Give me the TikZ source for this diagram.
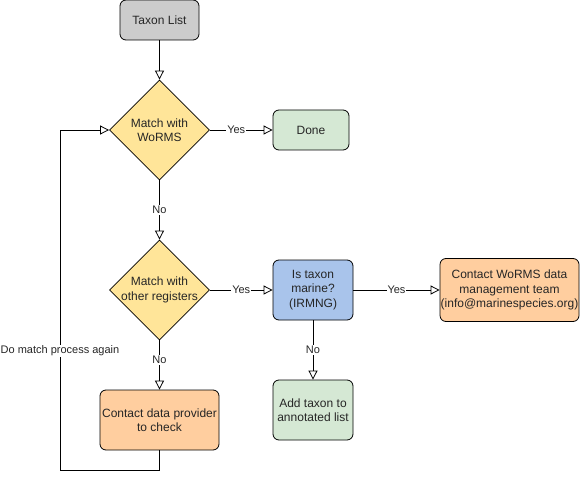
\documentclass[tikz,border=0pt]{standalone}
\usepackage{fontspec}
\setmainfont{Liberation Sans}
\usetikzlibrary{shapes.geometric,arrows.meta}
\definecolor{startgray}{HTML}{CCCCCC}
\definecolor{askyellow}{HTML}{FFE599}
\definecolor{donegreen}{HTML}{D5E8D4}
\definecolor{checkblue}{HTML}{A9C4EB}
\definecolor{mailorange}{HTML}{FFCE9F}
\definecolor{inkgray}{HTML}{262626}
\begin{document}
\begin{tikzpicture}[x=1pt, y=-1pt,
	every node/.style={font=\fontsize{12}{14.5}\selectfont, text=inkgray},
	box/.style={draw, rounded corners=6pt, align=center, line width=0.8pt, inner sep=0pt},
	decision/.style={draw, diamond, fill=askyellow, minimum width=100pt, minimum height=100pt, inner sep=0pt, line width=0.8pt},
	asktext/.style={align=center},
	flow/.style={-{Triangle[open, length=9pt, width=9pt]}, line width=0.8pt},
	answer/.style={fill=white, inner sep=1pt, font=\fontsize{11}{13}\selectfont}]
\useasboundingbox (0, 0) rectangle (580, 481);

%steps
\node[box, fill=startgray, minimum width=79pt, minimum height=40pt] (taxa) at (159.5, 20) {Taxon List};
\node[decision, label={[asktext]center:Match with\\WoRMS}] (worms) at (159.5, 130) {};
\node[box, fill=donegreen, minimum width=76pt, minimum height=40pt] (done) at (311, 130) {Done};
\node[decision, label={[asktext]center:Match with\\other registers}] (others) at (159.5, 290) {};
\node[box, fill=checkblue, minimum width=80pt, minimum height=60pt] (marine) at (313, 290) {Is taxon\\marine?\\(IRMNG)};
\node[box, fill=mailorange, minimum width=139pt, minimum height=63pt] (team) at (509.5, 290) {Contact WoRMS data\\management team\\(info@marinespecies.org)};
\node[box, fill=donegreen, minimum width=80pt, minimum height=60pt] (annot) at (313, 410) {Add taxon to\\annotated list};
\node[box, fill=mailorange, minimum width=119pt, minimum height=60pt] (provider) at (159.5, 420) {Contact data provider\\to check};

%arrows
\draw[flow] (taxa) -- (worms);
\draw[flow] (worms) -- node[answer, pos=0.42] {Yes} (done);
\draw[flow] (worms) -- node[answer] {No} (others);
\draw[flow] (others) -- node[answer] {Yes} (marine);
\draw[flow] (others) -- node[answer, pos=0.4] {No} (provider);
\draw[flow] (marine) -- node[answer] {Yes} (team);
\draw[flow] (marine) -- node[answer] {No} (annot);

%loop back
\coordinate (back) at (60, 470);
\draw[flow] (provider.south) |- (back) |- (worms.west);
\node[answer, font=\fontsize{11}{13}\selectfont] (again) at (60, 351) {Do match process again};

\end{tikzpicture}
\end{document}
